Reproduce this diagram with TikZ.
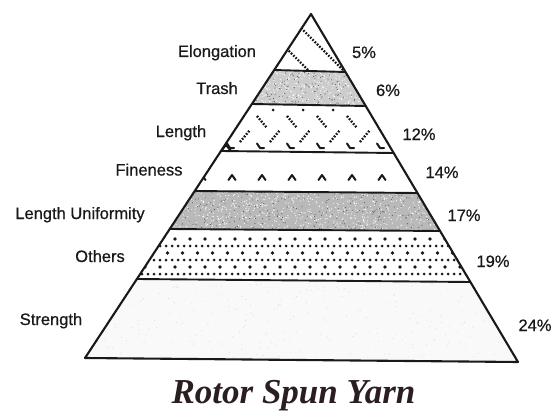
\documentclass[tikz,border=0pt]{standalone}
\usepackage{fontspec}
\newfontfamily\labfont[FakeBold=0.6]{Liberation Sans}
\newfontfamily\ttlfont{Liberation Serif}
\usetikzlibrary{calc}
\definecolor{ink}{RGB}{25,25,25}
\definecolor{titleink}{RGB}{42,30,32}
\tikzset{
  lab/.style={anchor=base, inner sep=0pt, font=\labfont\fontsize{16.5}{18}\selectfont, text=ink},
  pct/.style={anchor=base, inner sep=0pt, font=\labfont\fontsize{16.5}{18}\selectfont, text=ink},
  bandline/.style={line width=1.9pt, draw=ink},
  dotline/.style={line width=2.4pt, draw=ink, dash pattern=on 1.7pt off 1.5pt},
  tick/.style={line width=2pt, draw=ink, line cap=round, line join=round},
}
\begin{document}
\begin{tikzpicture}[x=1pt,y=-1pt]
\useasboundingbox (0,0) rectangle (557,412);
\fill[white] (0,0) rectangle (557,412);
\coordinate (A) at (311,14);
\coordinate (BL) at (85,358);
\coordinate (BR) at (518,362);
\foreach \i/\yl/\yr in {1/70/72, 2/104/106, 3/151/153, 4/191/193, 5/229/231, 6/279/282} {
  \coordinate (L\i) at ($(A)!{(\yl-14)/344}!(BL)$);
  \coordinate (R\i) at ($(A)!{(\yr-14)/348}!(BR)$);
}
\pgfmathsetseed{7}
% Elongation band
\begin{scope}
  \clip (A)--(R1)--(L1)--cycle;
  \draw[dotline] (283,10)--(353,80);
  \draw[dotline] (248,10)--(318,80);
\end{scope}
% Trash band
\begin{scope}
  \clip (L1)--(R1)--(R2)--(L2)--cycle;
  \fill[gray!40] (240,65) rectangle (380,110);
  \foreach \k in {1,...,400} {\fill[white] ({245+rnd*130},{70+rnd*37}) circle (0.6);}
  \foreach \k in {1,...,200} {\fill[gray!70!black] ({245+rnd*130},{70+rnd*37}) circle (0.55);}
\end{scope}
% Length band
\begin{scope}
  \clip (L2)--(R2)--(R3)--(L3)--cycle;
  \foreach \x in {232,262,292,322,352} {\draw[dotline] (\x-5,116)--(\x+5,128);}
  \foreach \x in {245,275,305,335,365} {\draw[dotline] (\x-5,142)--(\x+5,130);}
  \foreach \x in {230,260,290,320,350,380} {\draw[tick] (\x-3,143.5)--(\x,148)--(\x+4,148);}
  \foreach \x in {273,303,333} {\fill[ink] (\x,110) circle (1.5);}
  \draw[tick] (221,151)--(226,145)--(231,151);
\end{scope}
% Fineness band
\begin{scope}
  \clip (L3)--(R3)--(R4)--(L4)--cycle;
  \foreach \x in {202,232,262,292,322,352,382} {\draw[tick] (\x-3.5,180)--(\x,175)--(\x+3.5,180);}
\end{scope}
% Length Uniformity band
\begin{scope}
  \clip (L4)--(R4)--(R5)--(L5)--cycle;
  \fill[gray!55] (160,185) rectangle (450,235);
  \foreach \k in {1,...,800} {\fill[white] ({165+rnd*280},{190+rnd*43}) circle (0.6);}
  \foreach \k in {1,...,350} {\fill[gray!70!black] ({165+rnd*280},{190+rnd*43}) circle (0.55);}
\end{scope}
% Others band
\begin{scope}
  \clip (L5)--(R5)--(R6)--(L6)--cycle;
  \foreach \y/\o in {239/0, 253/7.5, 267/0} {
    \foreach \x in {130,145,...,480} {\fill[ink] (\x+\o,\y) circle (1.9);}
  }
  \foreach \y in {246,260,274} {
    \foreach \x in {130,136,...,480} {\fill[ink] (\x,\y) circle (1.5);}
  }
\end{scope}
% Strength band
\begin{scope}
  \clip (L6)--(R6)--(BR)--(BL)--cycle;
  \fill[gray!5] (80,275) rectangle (525,365);
  \foreach \k in {1,...,250} {\fill[gray!30] ({90+rnd*430},{283+rnd*75}) circle (0.5);}
\end{scope}
% band boundaries
\foreach \i in {1,...,6} {\draw[bandline] (L\i)--(R\i);}
% outline
\draw[line width=2.1pt, draw=ink, line join=round] (A)--(BR)--(BL)--cycle;
% labels
\node[lab] (lelong) at (217,57) {Elongation};
\node[lab] (ltrash) at (217,94) {Trash};
\node[lab] (llength) at (181,137) {Length};
\node[lab] (lfine) at (149,175.5) {Fineness};
\node[lab] (lunif) at (80,219) {Length Uniformity};
\node[lab] (lothers) at (100,262) {Others};
\node[lab] (lstrength) at (51,325) {Strength};
% percentages
\node[pct] (p1) at (364,58) {5\%};
\node[pct] (p2) at (388,96) {6\%};
\node[pct] (p3) at (419,140) {12\%};
\node[pct] (p4) at (442,178) {14\%};
\node[pct] (p5) at (464,221) {17\%};
\node[pct] (p6) at (493,267) {19\%};
\node[pct] (p7) at (535,331) {24\%};
% title
\node[anchor=base, inner sep=0pt, text=titleink, font=\ttlfont\bfseries\itshape\fontsize{35}{38}\selectfont] (title) at (293.5,403) {Rotor Spun Yarn};
\end{tikzpicture}
\end{document}
